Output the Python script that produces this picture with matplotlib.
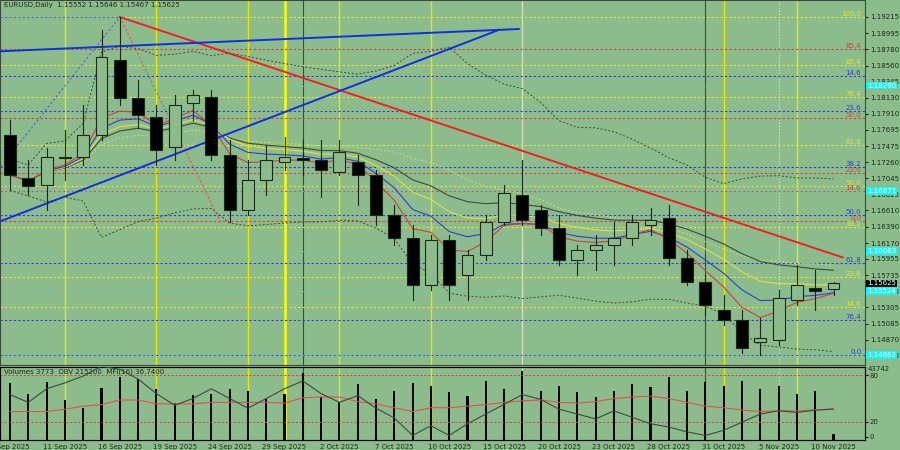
import matplotlib
matplotlib.use("Agg")
import matplotlib.pyplot as plt
import numpy as np
import pandas as pd

opens  = [1.17626,1.17046,1.16952,1.17329,1.17329,1.17626,1.18636,1.18124,1.17868,1.17464,1.18057,1.18137,1.17356,1.16615,1.17019,1.17262,1.17316,1.17289,1.17127,1.17262,1.17087,1.16548,1.16238,1.15606,1.16211,1.15740,1.16009,1.16454,1.16817,1.16615,1.16373,1.15942,1.16076,1.16144,1.16238,1.16414,1.16508,1.15969,1.15646,1.15269,1.15134,1.14837,1.14864,1.15403,1.15565,1.15552]
highs  = [1.17828,1.17289,1.17450,1.17693,1.18030,1.19040,1.19215,1.18366,1.18030,1.18164,1.18232,1.18232,1.17558,1.17289,1.17491,1.17599,1.17558,1.17558,1.17558,1.17356,1.17154,1.16683,1.16414,1.16279,1.16279,1.16076,1.16548,1.16952,1.17289,1.16683,1.16548,1.16144,1.16279,1.16454,1.16548,1.16642,1.16683,1.16076,1.15740,1.15471,1.15269,1.15161,1.15538,1.15875,1.15807,1.15646]
lows   = [1.16885,1.16817,1.16615,1.17019,1.17222,1.17558,1.18030,1.17720,1.17222,1.17289,1.17828,1.17289,1.16454,1.16548,1.16817,1.17154,1.17087,1.16790,1.17087,1.16683,1.16414,1.16144,1.15403,1.15538,1.15403,1.15403,1.15942,1.16414,1.16414,1.16279,1.15875,1.15740,1.15807,1.15875,1.16144,1.16279,1.15875,1.15606,1.15201,1.15066,1.14689,1.14662,1.14797,1.15336,1.15269,1.15467]
closes = [1.17087,1.16939,1.17329,1.17316,1.17626,1.18676,1.18124,1.17895,1.17424,1.18030,1.18164,1.17356,1.16615,1.17019,1.17289,1.17329,1.17289,1.17154,1.17397,1.17087,1.16548,1.16238,1.15606,1.16211,1.15606,1.16009,1.16454,1.16844,1.16481,1.16373,1.15942,1.16076,1.16144,1.16238,1.16454,1.16481,1.15969,1.15646,1.15336,1.15134,1.14757,1.14891,1.15430,1.15606,1.15524,1.15625]
volumes = [34400,28000,35000,24500,19200,31500,38500,37300,30900,22700,27400,28000,30900,29700,25100,28000,40800,26200,23300,33800,25100,29700,34400,32600,29200,27000,36000,31000,42000,30000,33000,29000,26000,30000,34000,32000,38000,30000,35000,33000,36000,31000,33000,28000,30000,3773]
mfi = [33,33,33,36,40,42,48,48,43,43,43,45,45,45,45,44,51,52,52,46,43,38,33,38,38,40,42,45,47,48,45,44,46,50,52,53,50,45,40,38,35,33,34,34,35,36.74]
obv = [260,236,278,296,317,347,338,308,263,227,248,278,248,218,248,278,302,263,236,257,218,188,134,164,134,170,200,230,260,245,215,200,185,210,190,170,160,145,134,150,175,200,210,205,212,215.2]
date_idx = [0,3,6,9,12,15,18,21,24,27,30,33,36,39,42,45]
date_lbl = ["8 Sep 2025","11 Sep 2025","16 Sep 2025","19 Sep 2025","24 Sep 2025","29 Sep 2025","2 Oct 2025","7 Oct 2025","10 Oct 2025","15 Oct 2025","20 Oct 2025","23 Oct 2025","28 Oct 2025","31 Oct 2025","5 Nov 2025","10 Nov 2025"]
price_ticks = [1.19215,1.18995,1.18780,1.18560,1.18345,1.18130,1.17910,1.17695,1.17475,1.17260,1.17045,1.16825,1.16610,1.16390,1.16170,1.15955,1.15735,1.15520,1.15305,1.15085,1.14870,1.14650]
fib_levels = [1.19215,1.18780,1.18568,1.18420,1.18137,1.17949,1.17855,1.17491,1.17195,1.17114,1.16939,1.16871,1.16548,1.16467,1.16386,1.15901,1.15713,1.15309,1.15134,1.14662]
fib_labels = ["100.0","85.4","85.4","14.6","76.4","23.6","50.0","61.8","38.2","23.6","50.0","14.6","50.0","0.0","38.2","61.8","23.6","14.6","76.4","0.0"]
fib_colors = ["y","r","y","b","y","b","r","y","b","r","y","r","b","r","y","b","y","y","b","b"]
cyan_levels = [1.18290,1.16871,1.16063,1.15524,1.14662]

BG = "#8CBC8C"
cmap = {"y": "#E6E632", "r": "#D04040", "b": "#2E3FD0"}
fs = 5.0
n = len(closes)
x = np.arange(n)
fig = plt.figure(figsize=(9, 4.5), dpi=100, facecolor=BG)
ax = fig.add_axes([0, 85/450, 865/900, 365/450], facecolor=BG)
ax2 = fig.add_axes([0, 10/450, 865/900, 73/450], facecolor=BG)
XL = (-10/18.3, 855/18.3)
for a in (ax, ax2):
    a.set_xlim(*XL)
    for s in a.spines.values():
        s.set_color("#3C4A3C")
    a.set_xticks([])
ax.set_ylim(1.14527, 1.19444)

for i in [3, 8, 13, 18, 23, 39, 43]:
    for a in (ax, ax2):
        a.axvline(i, color="#E8E800", lw=1.0, zorder=1)
for a in (ax, ax2):
    a.axvline(15, color="#FFFF00", lw=1.8, zorder=1)
    a.axvline(16, color="#404840", lw=0.8, zorder=1)
    a.axvline(38, color="#404840", lw=0.8, zorder=1)
    a.axvline(28, color="#D8E8C8", lw=0.8, zorder=1)
    a.axvline(42, color="#D8E8C8", lw=0.8, ls=":", zorder=1)

for lv, lb, c in zip(fib_levels, fib_labels, fib_colors):
    ax.axhline(lv, color=cmap[c], lw=0.8, ls=(0, (2, 2)), zorder=1)
    ax.text(XL[1] - 0.2, lv, lb, color=cmap[c], fontsize=fs, ha="right", va="bottom")
for lv in cyan_levels:
    ax.axhline(lv, color="#40E0E0", lw=0.6, ls=(0, (1, 2)), zorder=1)

s = pd.Series(closes)
sma = s.rolling(20, min_periods=1).mean()
sd = s.rolling(20, min_periods=2).std().bfill()
ax.plot(x, sma + 2*sd, color="#3C4A3C", lw=0.7, ls=(0, (2, 2)), zorder=2)
ax.plot(x, sma - 2*sd, color="#3C4A3C", lw=0.7, ls=(0, (2, 2)), zorder=2)
ax.plot(x, sma, color="#C8E070", lw=0.7, ls=(0, (2, 2)), zorder=2)
ax.plot(x, s.ewm(span=21).mean(), color="#3C4A3C", lw=0.8, zorder=2)
ax.plot(x, s.ewm(span=13).mean(), color="#E0E040", lw=0.8, zorder=2)
ax.plot(x, s.ewm(span=8).mean(), color="#2E3FD0", lw=0.8, zorder=2)
ax.plot(x, s.ewm(span=5).mean(), color="#D04040", lw=0.8, zorder=2)

ax.plot([6, 45.5], [highs[6], 1.15976], color="#F02020", lw=1.4, zorder=4)
ax.plot([XL[0], 26.7], [1.16462, 1.19040], color="#1030E0", lw=1.4, zorder=4)
ax.plot([XL[0], 27.8], [1.18753, 1.19053], color="#1030E0", lw=1.4, zorder=4)
ax.plot([-0.5, 6], [1.17200, highs[6]], color="#5060E0", lw=0.8, ls=(0, (2, 2)), zorder=3)
ax.plot([6, 11.5], [highs[6], lows[12]], color="#E05050", lw=0.8, ls=(0, (2, 2)), zorder=3)
ax.plot([XL[0], 6], [highs[6], highs[6]], color="#5060E0", lw=0.8, ls=(0, (2, 2)), zorder=3)

w = 0.65
for i in range(n):
    o, h, l, c = opens[i], highs[i], lows[i], closes[i]
    ax.plot([i, i], [l, h], color="#1A2A1A", lw=0.8, zorder=5)
    bull = c >= o
    ax.add_patch(plt.Rectangle((i - w/2, min(o, c)), w, max(abs(c - o), 0.00005),
                               facecolor=BG if bull else "black", edgecolor="#1A2A1A", lw=0.8, zorder=6))

ax.yaxis.tick_right()
ax.set_yticks(price_ticks)
ax.set_yticklabels([f"{p:.5f}" for p in price_ticks], fontsize=fs, color="#1A2A1A")
ax.tick_params(axis="y", length=2, pad=1.5, colors="#1A2A1A")
for lv in cyan_levels:
    ax.annotate(f"{lv:.5f}", xy=(1, lv), xycoords=("axes fraction", "data"), xytext=(1.5, 0),
                textcoords="offset points", fontsize=fs, va="center", color="#E0FFFF",
                bbox=dict(boxstyle="square,pad=0.1", fc="#20F0F0", ec="none"), annotation_clip=False)
ax.annotate(f"{closes[-1]:.5f}", xy=(1, closes[-1]), xycoords=("axes fraction", "data"), xytext=(1.5, 0),
            textcoords="offset points", fontsize=fs, va="center", color="white",
            bbox=dict(boxstyle="square,pad=0.1", fc="black", ec="none"), annotation_clip=False)
ax.text(0.005, 0.995, f"EURUSD,Daily  {opens[-1]:.5f} {highs[-1]:.5f} {lows[-1]:.5f} {closes[-1]:.5f}",
        transform=ax.transAxes, fontsize=fs, va="top", color="#1A2A1A")

ax2.set_ylim(0, 44350)
ax2.bar(x, volumes, width=0.12, color="black", zorder=3)
ax2.set_yticks([])
ax3 = ax2.twinx()
ax3.set_xlim(*XL)
ax3.set_ylim(-4, 91)
ax3.axhline(80, color="#D04040", lw=0.7, ls=(0, (2, 2)))
ax3.axhline(20, color="#D04040", lw=0.7, ls=(0, (2, 2)))
ax3.plot(x, mfi, color="#E05050", lw=0.8, zorder=4)
ax3.set_yticks([0, 20, 80])
ax3.set_yticklabels(["0", "20", "80"], fontsize=fs, color="#1A2A1A")
ax3.tick_params(axis="y", length=2, pad=1.5)
ax4 = ax2.twinx()
ax4.set_xlim(*XL)
ax4.set_ylim(120, 345)
ax4.plot(x, obv, color="#3C4A3C", lw=0.8, zorder=4)
ax4.axis("off")
fig.text(868/900, 1 - 366/450, "43742", fontsize=fs, color="#1A2A1A", va="top")
ax2.text(0.005, 0.98, f"Volumes {volumes[-1]}  OBV {int(obv[-1]*1000)}  MFI(16) {mfi[-1]:.4f}",
         transform=ax2.transAxes, fontsize=fs, va="top", color="#1A2A1A", zorder=10)
for i, lb in zip(date_idx, date_lbl):
    xf = (i - XL[0]) / (XL[1] - XL[0]) * 865/900
    fig.text(xf, 0.0, lb, fontsize=fs, ha="center", va="bottom", color="#1A2A1A")

fig.savefig("out.png", dpi=100, facecolor=BG)
